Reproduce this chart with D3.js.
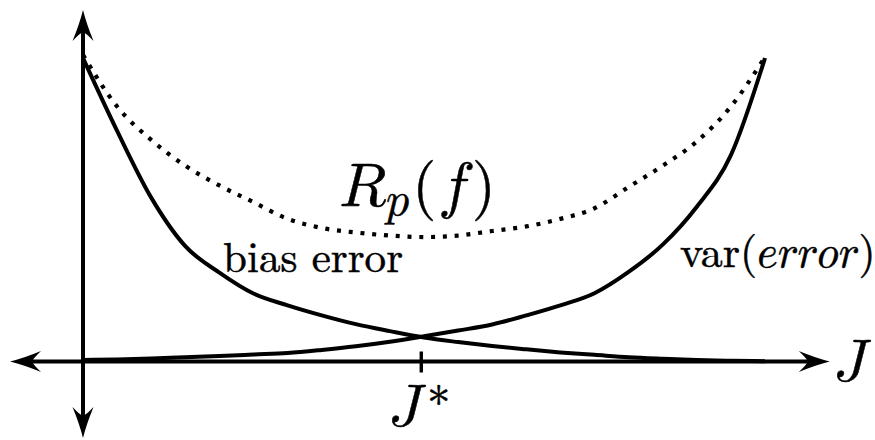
<!DOCTYPE html>
<html>
<head>
<meta charset="utf-8">
<script src="https://cdn.jsdelivr.net/npm/d3@7"></script>
<style>
  html, body { margin: 0; padding: 0; background: #fff; }
  svg { display: block; }
</style>
</head>
<body>
<svg id="chart" width="875" height="440"></svg>
<script>
// Model complexity J (horizontal) against error (vertical)
const complexity = [0, 0.5, 1, 1.5, 2, 2.5, 3, 3.5, 4, 4.5, 5, 5.5, 6, 6.5, 7, 7.5, 8, 8.5, 9, 9.5, 10];
const biasError  = [100, 76, 54, 38, 29.3, 22.4, 18.5, 15.2, 12.3, 10, 7.9, 6.4, 5.1, 4, 3, 2.2, 1.4, 0.9, 0.5, 0.25, 0.1];
const varError   = [0.5, 0.7, 1.0, 1.4, 1.8, 2.3, 2.8, 3.8, 5.0, 6.5, 8.3, 10.2, 12.2, 15.2, 18.5, 22.5, 29.5, 38.5, 51, 68, 100];
const riskCurve  = [101, 84, 73, 64.5, 58, 52.5, 47, 44, 42.5, 41.5, 41, 41.5, 43, 44.5, 47, 50.5, 57.5, 64.5, 72.5, 84, 100.3];
const optimumJ   = 4.96;

// axis extents (in data units), arrows sit at both ends
const xAxisExtent = [-1.07, 10.95];
const yAxisExtent = [-25.2, 115.8];

const serif = '"Latin Modern Roman"';
const mathFont = '"Latin Modern Math"';

const svg = d3.select("#chart");
const x = d3.scaleLinear().domain([0, 10]).range([83, 765]);
const y = d3.scaleLinear().domain([0, 100]).range([361.5, 58]);

const line = (vals) => d3.line()
  .x((d, i) => x(complexity[i]))
  .y(d => y(d))
  .curve(d3.curveMonotoneX)(vals);

// arrowhead pointing along +x, tip at origin
const arrowPath = "M0,0 Q-14,-3.5 -31,-10.5 Q-23,-3 -22,0 Q-23,3 -31,10.5 Q-14,3.5 0,0 Z";
function arrow(px, py, angle) {
  svg.append("path")
    .attr("d", arrowPath)
    .attr("transform", `translate(${px},${py}) rotate(${angle})`)
    .attr("fill", "#000");
}

// axes
const x0 = x(0), y0 = y(0);
svg.append("line")
  .attr("x1", x(xAxisExtent[0]) + 20).attr("x2", x(xAxisExtent[1]) - 20)
  .attr("y1", y0).attr("y2", y0)
  .attr("stroke", "#000").attr("stroke-width", 4);
svg.append("line")
  .attr("x1", x0).attr("x2", x0)
  .attr("y1", y(yAxisExtent[1]) + 20).attr("y2", y(yAxisExtent[0]) - 20)
  .attr("stroke", "#000").attr("stroke-width", 4);
arrow(x(xAxisExtent[1]), y0, 0);
arrow(x(xAxisExtent[0]), y0, 180);
arrow(x0, y(yAxisExtent[1]), -90);
arrow(x0, y(yAxisExtent[0]), 90);

// tick at the optimum
svg.append("line")
  .attr("x1", x(optimumJ)).attr("x2", x(optimumJ))
  .attr("y1", y0 - 10).attr("y2", y0 + 11)
  .attr("stroke", "#000").attr("stroke-width", 3.4);

// curves
svg.append("path").attr("d", line(biasError))
  .attr("fill", "none").attr("stroke", "#000").attr("stroke-width", 4);
svg.append("path").attr("d", line(varError))
  .attr("fill", "none").attr("stroke", "#000").attr("stroke-width", 4);
svg.append("path").attr("d", line(riskCurve))
  .attr("fill", "none").attr("stroke", "#000").attr("stroke-width", 4.2)
  .attr("stroke-dasharray", "4 7.8");

// labels (math italic letters from the math font, upright text from the roman)
const label = (px, py, size) => svg.append("text")
  .attr("x", px).attr("y", py)
  .style("font-family", serif).attr("font-size", size).attr("fill", "#000")
  .attr("stroke", "#000").attr("stroke-width", 0.5);
const math = (t, s) => t.append("tspan").style("font-family", mathFont).text(s);

const rp = label(339, 206, 62);
math(rp, "\u{1D445}");
math(rp, "\u{1D45D}").attr("font-size", 46).attr("dy", 9);
rp.append("tspan").attr("dy", -9).attr("dx", 3).text("(");
math(rp, "\u{1D453}").attr("dx", 2);
rp.append("tspan").attr("dx", 3).text(")");

label(223, 272, 43)
  .attr("textLength", 180).attr("lengthAdjust", "spacing")
  .text("bias error");

const ve = label(680, 267, 44);
ve.append("tspan").text("var(");
math(ve, "\u{1D452}\u{1D45F}\u{1D45F}\u{1D45C}\u{1D45F}");
ve.append("tspan").text(")");

math(label(833, 381, 60), "\u{1D43D}");

const js = label(388, 426, 60);
math(js, "\u{1D43D}");
js.append("tspan").attr("font-size", 46).attr("dx", 6).attr("dy", -6).text("*");
</script>
</body>
</html>
